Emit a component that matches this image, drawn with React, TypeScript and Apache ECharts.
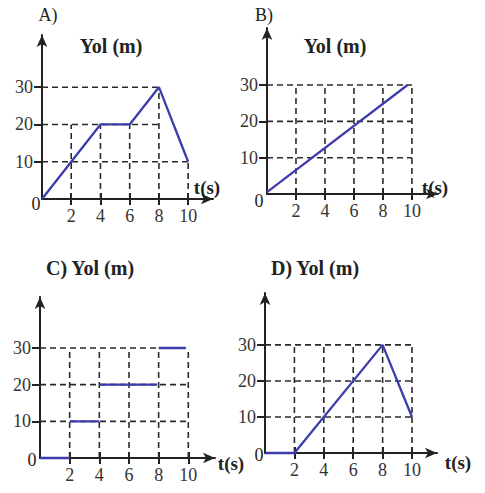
import React, { useEffect, useRef } from "react";
import * as echarts from "echarts";

// ---- data ----
const X_TICKS = [2, 4, 6, 8, 10];
const Y_TICKS = [10, 20, 30];

const pathA = [[0, 0], [4, 20], [6, 20], [8, 30], [10, 10]];
const pathB = [[0, 0.5], [9.7, 30]];
const stepsC = [
  [[0, 0], [2, 0]],
  [[2, 10], [4, 10]],
  [[4, 20], [7.9, 20]],
  [[8, 30], [9.8, 30]],
];
const pathD = [[0, 0], [2, 0], [8, 30], [10, 10]];

// dashed guide lines: horizontal [y, xEnd], vertical [x, yEnd]
const guidesAH = [[10, 10], [20, 8], [30, 8]];
const guidesAV = [[2, 20], [4, 20], [6, 20], [8, 30], [10, 10]];
const guidesFullH = [[10, 10], [20, 10], [30, 10]];
const guidesFullV = [[2, 30], [4, 30], [6, 30], [8, 30], [10, 30]];

const panelTitles = ["A)", "B)", "C) Yol (m)", "D) Yol (m)"];
const yTitle = "Yol (m)";
const xTitle = "t(s)";

const FONT = "Liberation Serif";
const INK = "#222";
const BLUE = "#3c3cae";

const grids = [
  { left: 42, top: 35, width: 171, height: 164, xmax: 11.7, ymax: 44 },
  { left: 267, top: 28, width: 171, height: 166, xmax: 11.8, ymax: 45.7 },
  { left: 40, top: 297, width: 175, height: 161, xmax: 11.8, ymax: 43.9 },
  { left: 265, top: 293, width: 172, height: 160, xmax: 11.7, ymax: 44.4 },
];

function dashed(idx: number, data: number[][]) {
  return {
    type: "line",
    xAxisIndex: idx,
    yAxisIndex: idx,
    data,
    symbol: "none",
    silent: true,
    z: 1,
    lineStyle: { color: "#2a2a2a", width: 1.6, type: [6, 4] },
  };
}

function guideSeries(idx: number, h: number[][], v: number[][]) {
  const out: any[] = [];
  h.forEach(([y, xe]) => out.push(dashed(idx, [[0, y], [xe, y]])));
  v.forEach(([x, ye]) => out.push(dashed(idx, [[x, 0], [x, ye]])));
  return out;
}

function mainLine(idx: number, data: number[][]) {
  return {
    type: "line",
    xAxisIndex: idx,
    yAxisIndex: idx,
    data,
    symbol: "none",
    z: 5,
    clip: false,
    lineStyle: { color: BLUE, width: 2.3 },
  };
}

function txt(x: number, y: number, text: string, size: number, bold: boolean) {
  return {
    type: "text",
    x,
    y,
    z: 10,
    style: {
      text,
      fontFamily: FONT,
      fontSize: size,
      fontWeight: bold ? "bold" : "normal",
      fill: INK,
      align: "center",
      verticalAlign: "middle",
      textAlign: "center",
      textVerticalAlign: "middle",
    },
  };
}

export default function App() {
  const ref = useRef<HTMLDivElement>(null);
  useEffect(() => {
    if (!ref.current) return;
    const chart = echarts.init(ref.current, undefined, { renderer: "svg" });

    const axisLine = {
      show: true,
      symbol: ["none", "arrow"],
      symbolSize: [8, 12],
      lineStyle: { color: INK, width: 2 },
    };

    const mainX = grids.map((g, i) => ({
      type: "value",
      gridIndex: i,
      min: 0,
      max: g.xmax,
      splitLine: { show: false },
      axisLine,
      axisTick: {
        show: true,
        customValues: X_TICKS,
        length: 6,
        lineStyle: { color: INK, width: 2 },
      },
      axisLabel: {
        customValues: X_TICKS,
        margin: 8,
        fontFamily: FONT,
        fontSize: 18,
        color: "#333",
      },
    }));
    // second x axes: only inner half of the crossing ticks
    const innerX = grids.map((g, i) => ({
      type: "value",
      gridIndex: i,
      position: "bottom",
      min: 0,
      max: g.xmax,
      splitLine: { show: false },
      axisLine: { show: false },
      axisTick: {
        show: true,
        inside: true,
        customValues: X_TICKS,
        length: 6,
        lineStyle: { color: INK, width: 2 },
      },
      axisLabel: { show: false },
    }));

    const option: any = {
      animation: false,
      backgroundColor: "#fff",
      grid: grids.map((g) => ({
        left: g.left,
        top: g.top,
        width: g.width,
        height: g.height,
        containLabel: false,
      })),
      xAxis: [...mainX, ...innerX],
      yAxis: grids.map((g, i) => ({
        type: "value",
        gridIndex: i,
        min: 0,
        max: g.ymax,
        splitLine: { show: false },
        axisLine,
        axisTick: {
          show: true,
          customValues: Y_TICKS,
          length: 8,
          lineStyle: { color: INK, width: 2 },
        },
        axisLabel: {
          customValues: Y_TICKS,
          margin: 9,
          fontFamily: FONT,
          fontSize: 18,
          color: "#333",
        },
      })),
      series: [
        ...guideSeries(0, guidesAH, guidesAV),
        ...guideSeries(1, guidesFullH, guidesFullV),
        ...guideSeries(2, guidesFullH, guidesFullV),
        ...guideSeries(3, guidesFullH, guidesFullV),
        mainLine(0, pathA),
        mainLine(1, pathB),
        ...stepsC.map((s) => mainLine(2, s)),
        mainLine(3, pathD),
      ],
      graphic: [
        txt(48, 15, panelTitles[0], 18, false),
        txt(111, 46, yTitle, 20, true),
        txt(207, 187, xTitle, 19, true),
        txt(36, 204, "0", 18, false),

        txt(264, 15, panelTitles[1], 18, false),
        txt(335, 46, yTitle, 20, true),
        txt(435, 187, xTitle, 19, true),
        txt(259, 201, "0", 18, false),

        txt(90, 268, panelTitles[2], 20, true),
        txt(231, 463, xTitle, 19, true),
        txt(32, 460, "0", 18, false),

        txt(315, 268, panelTitles[3], 20, true),
        txt(458, 462, xTitle, 19, true),
        txt(259, 455, "0", 18, false),
      ],
    };
    chart.setOption(option);
    return () => chart.dispose();
  }, []);
  return (
    <div
      ref={ref}
      style={{ position: "absolute", left: 0, top: 0, width: 485, height: 493 }}
    />
  );
}
